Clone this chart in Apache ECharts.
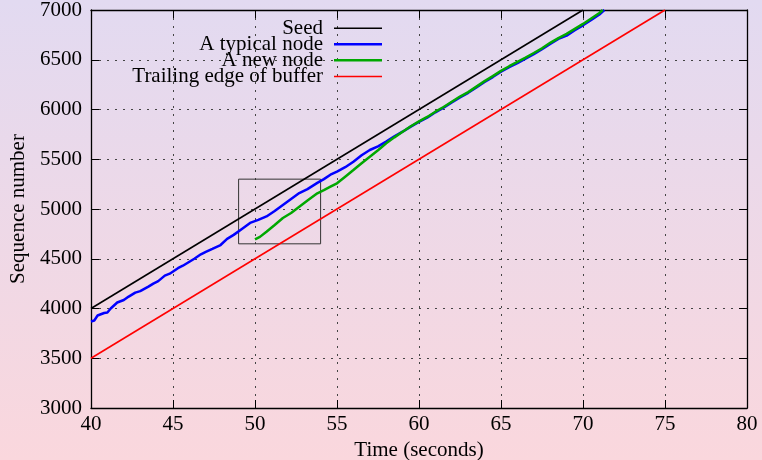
<!DOCTYPE html>
<html>
<head>
<meta charset="utf-8">
<script src="https://cdn.jsdelivr.net/npm/echarts@6/dist/echarts.min.js"></script>
<style>
html,body{margin:0;padding:0;background:#fff;}
#chart{width:762px;height:460px;}
</style>
</head>
<body>
<div id="chart"></div>
<script>
// ---- data ----
const xTicks = [40, 45, 50, 55, 60, 65, 70, 75, 80];
const yTicks = [3000, 3500, 4000, 4500, 5000, 5500, 6000, 6500, 7000];
const seriesNames = ['Seed', 'A typical node', 'A new node', 'Trailing edge of buffer'];

const seed = [[40, 4000], [70, 7000]];
const trailingEdge = [[40, 3500], [75, 7000]];

const typicalNode = [
  [40.0, 3870], [40.2, 3880], [40.4, 3930], [40.8, 3955], [41.0, 3960], [41.2, 4000],
  [41.6, 4060], [42.0, 4085], [42.3, 4120], [42.7, 4160], [43.0, 4175], [43.5, 4220],
  [43.8, 4250], [44.1, 4275], [44.5, 4330], [44.8, 4350], [45.3, 4405], [45.6, 4430],
  [45.9, 4460], [46.3, 4500], [46.7, 4545], [47.0, 4570], [47.4, 4600], [47.9, 4638],
  [48.3, 4700], [48.7, 4740], [49.2, 4800], [49.7, 4860], [50.2, 4890], [50.7, 4925],
  [51.2, 4980], [51.7, 5040], [52.2, 5100], [52.7, 5160], [53.2, 5200], [53.8, 5262],
  [54.2, 5300], [54.6, 5345], [55.0, 5375], [55.5, 5420], [56.0, 5475], [56.5, 5540],
  [57.0, 5593], [57.5, 5630], [58.0, 5677], [58.5, 5730], [59.0, 5777], [59.5, 5828],
  [60.0, 5875], [60.5, 5918], [61.0, 5972], [61.5, 6018], [62.0, 6072], [62.5, 6122],
  [63.0, 6168], [63.5, 6222], [64.0, 6276], [64.5, 6326], [65.0, 6380], [65.5, 6426],
  [66.0, 6466], [66.5, 6512], [67.0, 6556], [67.5, 6606], [68.0, 6660], [68.5, 6710],
  [69.0, 6742], [69.5, 6796], [70.0, 6846], [70.5, 6900], [71.0, 6955], [71.3, 7000]
];

const newNode = [
  [50.0, 4695], [50.3, 4720], [50.7, 4772], [51.2, 4840], [51.7, 4909], [52.2, 4960],
  [52.7, 5023], [53.2, 5085], [53.8, 5158], [54.2, 5190], [54.6, 5224], [55.0, 5258],
  [55.5, 5325], [56.0, 5392], [56.5, 5460], [57.0, 5526], [57.5, 5590], [58.0, 5660],
  [58.5, 5720], [59.0, 5777], [59.5, 5832], [60.0, 5880], [60.5, 5925], [61.0, 5978],
  [61.5, 6025], [62.0, 6078], [62.5, 6130], [63.0, 6175], [63.5, 6230], [64.0, 6285],
  [64.5, 6335], [65.0, 6388], [65.5, 6435], [66.0, 6478], [66.5, 6522], [67.0, 6568],
  [67.5, 6615], [68.0, 6670], [68.5, 6718], [69.0, 6760], [69.5, 6810], [70.0, 6860],
  [70.5, 6915], [71.0, 6970], [71.2, 7000]
];

const zoomBoxX = [49, 54];
const zoomBoxY = [4650, 5300];

// ---- chart ----
const FONT = 'Liberation Serif';
const FS = 21;
const box = [
  [zoomBoxX[0], zoomBoxY[0]], [zoomBoxX[1], zoomBoxY[0]],
  [zoomBoxX[1], zoomBoxY[1]], [zoomBoxX[0], zoomBoxY[1]], [zoomBoxX[0], zoomBoxY[0]]
];

const colors = ['#000000', '#0000ff', '#00a800', '#ff0000'];
const widths = [1.6, 2.5, 2.5, 1.6];
const legendCenters = [28.3, 44.3, 60.3, 76.5];

const gridLine = { show: true, lineStyle: { color: '#444', width: 1, type: [2, 6] } };
const axisCommon = {
  axisLine: { show: true, lineStyle: { color: '#000', width: 1.3 } },
  axisTick: { show: true, inside: true, length: 8, lineStyle: { color: '#000', width: 1 } }
};
const plain = v => String(v);

const chart = echarts.init(document.getElementById('chart'), null, { renderer: 'canvas' });
chart.setOption({
  animation: false,
  backgroundColor: {
    type: 'linear', x: 0, y: 0, x2: 0, y2: 1,
    colorStops: [{ offset: 0, color: '#e2daf1' }, { offset: 1, color: '#fad7dd' }]
  },
  textStyle: { fontFamily: FONT },
  grid: { left: 91, right: 15, top: 10, bottom: 52, containLabel: false, outerBoundsMode: 'none' },
  legend: seriesNames.map((n, i) => ({
    data: [n],
    orient: 'vertical',
    align: 'right',
    right: 762 - 382,
    top: legendCenters[i] - 11,
    padding: 0,
    icon: 'rect',
    itemWidth: 48,
    itemHeight: widths[i],
    selectedMode: false,
    textStyle: { fontFamily: FONT, fontSize: FS, color: '#000', lineHeight: 22, padding: [0, 6, 0, 0] }
  })),
  xAxis: [
    Object.assign({
      type: 'value', min: xTicks[0], max: xTicks[xTicks.length - 1], interval: 5,
      position: 'bottom',
      name: 'Time (seconds)', nameLocation: 'middle', nameGap: 28,
      nameTextStyle: { fontFamily: FONT, fontSize: FS, color: '#000' },
      axisLabel: { fontFamily: FONT, fontSize: FS, color: '#000', margin: 6, formatter: plain },
      splitLine: gridLine
    }, axisCommon),
    Object.assign({
      type: 'value', min: xTicks[0], max: xTicks[xTicks.length - 1], interval: 5,
      position: 'top', axisLabel: { show: false }, splitLine: { show: false }
    }, axisCommon)
  ],
  yAxis: [
    Object.assign({
      type: 'value', min: yTicks[0], max: yTicks[yTicks.length - 1], interval: 500,
      position: 'left',
      name: 'Sequence number', nameLocation: 'middle', nameGap: 62, nameRotate: 90,
      nameTextStyle: { fontFamily: FONT, fontSize: FS, color: '#000' },
      axisLabel: { fontFamily: FONT, fontSize: FS, color: '#000', margin: 9, formatter: plain },
      splitLine: gridLine
    }, axisCommon),
    Object.assign({
      type: 'value', min: yTicks[0], max: yTicks[yTicks.length - 1], interval: 500,
      position: 'right', axisLabel: { show: false }, splitLine: { show: false }
    }, axisCommon)
  ],
  series: [
    { name: seriesNames[0], type: 'line', data: seed, showSymbol: false, z: 3,
      lineStyle: { color: colors[0], width: widths[0] }, itemStyle: { color: colors[0] } },
    { name: seriesNames[1], type: 'line', data: typicalNode, showSymbol: false, z: 4,
      lineStyle: { color: colors[1], width: widths[1] }, itemStyle: { color: colors[1] } },
    { name: seriesNames[2], type: 'line', data: newNode, showSymbol: false, z: 5,
      lineStyle: { color: colors[2], width: widths[2] }, itemStyle: { color: colors[2] } },
    { name: seriesNames[3], type: 'line', data: trailingEdge, showSymbol: false, z: 3,
      lineStyle: { color: colors[3], width: widths[3] }, itemStyle: { color: colors[3] } },
    { name: 'zoom box', type: 'line', data: box, showSymbol: false, z: 2,
      lineStyle: { color: '#333', width: 1 }, itemStyle: { color: '#333' } }
  ]
});
</script>
</body>
</html>
